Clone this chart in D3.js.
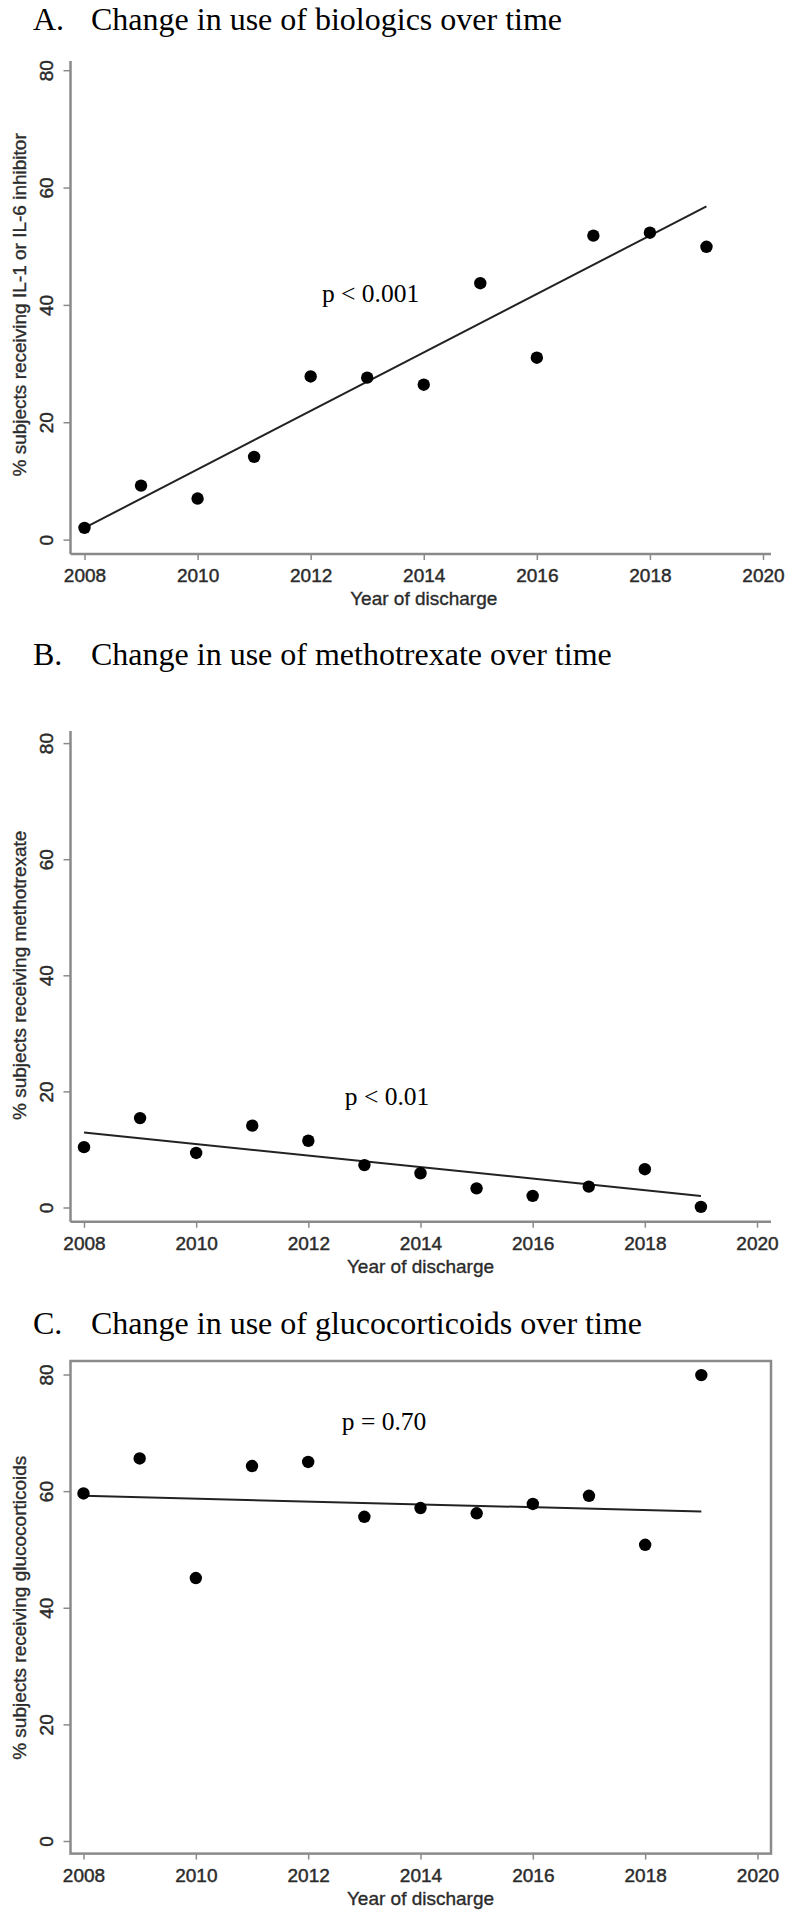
<!DOCTYPE html>
<html>
<head>
<meta charset="utf-8">
<script src="https://cdn.jsdelivr.net/npm/d3@7"></script>
<style>
  body { margin: 0; background: #fff; }
  svg { display: block; }
  .title { font-family: "Liberation Serif", "Times New Roman", serif; font-size: 32px; fill: #000; }
  .pval { font-family: "Liberation Serif", "Times New Roman", serif; font-size: 25.5px; fill: #000; }
  .tick text { font-family: "Liberation Sans", Arial, sans-serif; font-size: 19px; fill: #2b2b2b; stroke: #2b2b2b; stroke-width: 0.45px; }
  .axis-title { font-family: "Liberation Sans", Arial, sans-serif; font-size: 19px; fill: #2b2b2b; stroke: #2b2b2b; stroke-width: 0.35px; }
</style>
</head>
<body>
<div id="chart"></div>
<script>
// ===== Daten =====
const years = [2008, 2009, 2010, 2011, 2012, 2013, 2014, 2015, 2016, 2017, 2018, 2019];

// % Patienten je Jahr
const biologics      = [2.0, 9.2, 7.0, 14.1, 27.8, 27.6, 26.4, 43.7, 31.0, 51.8, 52.3, 49.9];
const methotrexate   = [10.4, 15.4, 9.4, 14.1, 11.5, 7.3, 5.9, 3.3, 2.0, 3.6, 6.6, 0.1];
const glucocorticoids = [59.6, 65.6, 45.1, 64.3, 65.0, 55.6, 57.1, 56.2, 57.8, 59.2, 50.8, 79.9];

// Regressionsgerade: Werte bei 2008 und 2019
const fitYears = [2008, 2019];
const fitBiologics = [2.0, 56.8];
const fitMethotrexate = [12.9, 2.0];
const fitGlucocorticoids = [59.2, 56.5];

const xTicks = [2008, 2010, 2012, 2014, 2016, 2018, 2020];
const yTicks = [0, 20, 40, 60, 80];

const titles = [
  'Change in use of biologics over time',
  'Change in use of methotrexate over time',
  'Change in use of glucocorticoids over time'
];
const letters = ['A.', 'B.', 'C.'];
const yLabels = [
  '% subjects receiving IL-1 or IL-6 inhibitor',
  '% subjects receiving methotrexate',
  '% subjects receiving glucocorticoids'
];
const xLabel = 'Year of discharge';
const pLabels = ['p < 0.001', 'p < 0.01', 'p = 0.70'];
const pPos = [[2012.2, 40.5], [2012.65, 17.6], [2012.6, 70.4]];

// Layout je Panel (Pixel)
const panels = [
  { values: biologics,       fit: fitBiologics,       titleY: 29.5, axisTop: 61,  y80: 70.2,   y0: 539.6,  axisY: 554,    x0: 84.5, x1: 763,   frame: false },
  { values: methotrexate,    fit: fitMethotrexate,    titleY: 665,  axisTop: 731, y80: 743.1,  y0: 1207.5, axisY: 1221.7, x0: 84,   x1: 757,   frame: false },
  { values: glucocorticoids, fit: fitGlucocorticoids, titleY: 1334, axisTop: 1361, y80: 1374.5, y0: 1841,  axisY: 1853.6, x0: 83.5, x1: 757.5, frame: true }
];

const width = 793, height = 1920;
const axisX = 70.5, axisRight = 771;
const axisColor = '#8a8a8a';

const svg = d3.select('#chart').append('svg')
  .attr('width', width)
  .attr('height', height);

panels.forEach((p, i) => {
  const g = svg.append('g');

  const x = d3.scaleLinear().domain([2008, 2020]).range([p.x0, p.x1]);
  const y = d3.scaleLinear().domain([0, 80]).range([p.y0, p.y80]);

  // Titel
  const t = g.append('text').attr('class', 'title').attr('y', p.titleY);
  t.append('tspan').attr('x', 33).text(letters[i]);
  t.append('tspan').attr('x', 91).text(titles[i]);

  // Rahmen bzw. Achsenlinien
  if (p.frame) {
    g.append('rect')
      .attr('x', axisX).attr('y', p.axisTop)
      .attr('width', axisRight - axisX).attr('height', p.axisY - p.axisTop)
      .attr('fill', 'none').attr('stroke', axisColor).attr('stroke-width', 2.5);
  } else {
    g.append('line')
      .attr('x1', axisX).attr('x2', axisX).attr('y1', p.axisTop).attr('y2', p.axisY)
      .attr('stroke', axisColor).attr('stroke-width', 2.5);
    g.append('line')
      .attr('x1', axisX).attr('x2', axisRight).attr('y1', p.axisY).attr('y2', p.axisY)
      .attr('stroke', axisColor).attr('stroke-width', 2.5);
  }

  // x-Achse
  const gx = g.append('g')
    .attr('transform', `translate(0,${p.axisY})`)
    .call(d3.axisBottom(x).tickValues(xTicks).tickFormat(d3.format('d')).tickSize(6).tickSizeOuter(0));
  gx.select('.domain').remove();
  gx.selectAll('.tick line').attr('stroke', axisColor).attr('stroke-width', 1.5);
  gx.selectAll('.tick text').attr('y', 28).attr('dy', 0);

  // y-Achse
  const gy = g.append('g')
    .attr('transform', `translate(${axisX},0)`)
    .call(d3.axisLeft(y).tickValues(yTicks).tickSize(7).tickSizeOuter(0));
  gy.select('.domain').remove();
  gy.selectAll('.tick line').attr('stroke', axisColor).attr('stroke-width', 1.5);
  gy.selectAll('.tick text')
    .attr('x', 0).attr('y', -17.5).attr('dy', 0)
    .attr('text-anchor', 'middle')
    .attr('transform', 'rotate(-90)');

  // Achsentitel
  g.append('text').attr('class', 'axis-title')
    .attr('x', (p.x0 + p.x1) / 2).attr('y', p.axisY + 51)
    .attr('text-anchor', 'middle')
    .text(xLabel);
  g.append('text').attr('class', 'axis-title')
    .attr('transform', `translate(26,${(p.y0 + p.y80) / 2}) rotate(-90)`)
    .attr('text-anchor', 'middle')
    .text(yLabels[i]);

  // Regressionsgerade
  g.append('line')
    .attr('x1', x(fitYears[0])).attr('y1', y(p.fit[0]))
    .attr('x2', x(fitYears[1])).attr('y2', y(p.fit[1]))
    .attr('stroke', '#222').attr('stroke-width', 2);

  // Punkte
  g.append('g').selectAll('circle')
    .data(years.map((yr, k) => ({ yr, v: p.values[k] })))
    .enter().append('circle')
    .attr('cx', d => x(d.yr))
    .attr('cy', d => y(d.v))
    .attr('r', 6.2)
    .attr('fill', '#000');

  // p-Wert
  g.append('text').attr('class', 'pval')
    .attr('x', x(pPos[i][0])).attr('y', y(pPos[i][1]))
    .text(pLabels[i]);
});
</script>
</body>
</html>
